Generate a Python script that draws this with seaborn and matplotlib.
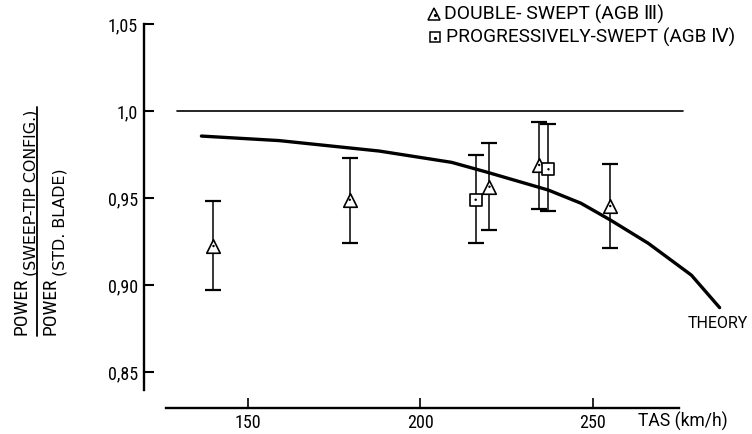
import matplotlib
matplotlib.use("Agg")
import matplotlib.pyplot as plt
import seaborn as sns
import pandas as pd
from matplotlib.lines import Line2D
from matplotlib import font_manager

# ---------------- data ----------------
theory_tas = [136.5, 159, 188, 209, 219, 237, 246.5, 255, 266, 278.5, 286.7]
theory_ratio = [0.9856, 0.983, 0.977, 0.9705, 0.965, 0.9546, 0.947, 0.9374, 0.924, 0.9057, 0.887]

double_tas = [140, 179.5, 220, 234.4, 255]
double_ratio = [0.9224, 0.949, 0.9565, 0.969, 0.9454]
double_lo = [0.897, 0.924, 0.9316, 0.9435, 0.9211]
double_hi = [0.948, 0.973, 0.9814, 0.9938, 0.9695]

prog_tas = [216, 237.1]
prog_ratio = [0.949, 0.9665]
prog_lo = [0.924, 0.9427]
prog_hi = [0.9747, 0.9925]

ref_tas = [129.4, 276]
ref_ratio = [1.0, 1.0]

x_ticks = [150, 200, 250]
x_ticklabels = ["150", "200", "250"]
y_ticks = [0.85, 0.90, 0.95, 1.0, 1.05]
y_ticklabels = ["0,85", "0,90", "0,95", "1,0", "1,05"]

legend_labels = ["DOUBLE- SWEPT (AGB \u2162)", "PROGRESSIVELY-SWEPT (AGB \u2163)"]

# ---------------- style ----------------
sns.set_style("ticks")
avail = {f.name for f in font_manager.fontManager.ttflist}
text_font = "Roboto" if "Roboto" in avail else "DejaVu Sans"
cond_font = text_font
for cand in ["Roboto Condensed", "Liberation Sans Narrow", "DejaVu Sans Condensed", "Noto Sans Condensed"]:
    if cand in avail:
        cond_font = cand
        break
plt.rcParams["font.family"] = [text_font, "DejaVu Sans"]
TEXT = [text_font, "DejaVu Sans"]
COND = [cond_font, "DejaVu Sans"]
WIDE = ["DejaVu Sans"]

W, H = 752, 434
fig = plt.figure(figsize=(W / 100, H / 100), dpi=100)
fig.patch.set_facecolor("white")

# axes placed so data maps onto the reference's pixel grid
L, R, T, B = 130, 740, 10, 415
ax = fig.add_axes([L / W, 1 - B / H, (R - L) / W, (B - T) / H])
ax.set_facecolor("none")
ax.set_xlim(115.80, 292.61)
ax.set_ylim(0.82529, 1.05805)

# reference line at 1.0
sns.lineplot(x=ref_tas, y=ref_ratio, ax=ax, color="black", lw=1.2, estimator=None)
# theory curve
sns.lineplot(x=theory_tas, y=theory_ratio, ax=ax, color="black", lw=2.4, estimator=None)

# error bars
ax.errorbar(double_tas, double_ratio,
            yerr=[[m - l for m, l in zip(double_ratio, double_lo)],
                  [h - m for m, h in zip(double_ratio, double_hi)]],
            fmt="none", ecolor="black", elinewidth=1.1, capsize=5.5, capthick=1.6, zorder=2)
ax.errorbar(prog_tas, prog_ratio,
            yerr=[[m - l for m, l in zip(prog_ratio, prog_lo)],
                  [h - m for m, h in zip(prog_ratio, prog_hi)]],
            fmt="none", ecolor="black", elinewidth=1.1, capsize=5.5, capthick=1.6, zorder=2)

# markers
df_d = pd.DataFrame({"tas": double_tas, "ratio": double_ratio})
df_p = pd.DataFrame({"tas": prog_tas, "ratio": prog_ratio})
sns.scatterplot(data=df_d, x="tas", y="ratio", ax=ax, marker="^", s=95,
                color="white", edgecolor="black", linewidth=1.2, zorder=4)
sns.scatterplot(data=df_p, x="tas", y="ratio", ax=ax, marker="s", s=72,
                color="white", edgecolor="black", linewidth=1.2, zorder=4)
sns.scatterplot(data=pd.concat([df_d, df_p]), x="tas", y="ratio", ax=ax, marker="o",
                s=3, color="black", edgecolor="none", zorder=5)

ax.set_xlabel("")
ax.set_ylabel("")

# spines: detached axes
for s in ["top", "right"]:
    ax.spines[s].set_visible(False)
ax.spines["left"].set_position(("data", 119.86))
ax.spines["left"].set_bounds(0.8397, 1.05)
ax.spines["bottom"].set_position(("data", 0.82931))
ax.spines["bottom"].set_bounds(126.2, 274.9)
for s in ["left", "bottom"]:
    ax.spines[s].set_linewidth(1.7)
    ax.spines[s].set_color("black")

ax.set_xticks(x_ticks)
ax.set_xticklabels(x_ticklabels)
ax.set_yticks(y_ticks)
ax.set_yticklabels(y_ticklabels)

fig.canvas.draw()
renderer = fig.canvas.get_renderer()


def width_at(s, size, family):
    t = fig.text(0, 0, s, fontsize=size, family=family)
    w = t.get_window_extent(renderer).width
    t.remove()
    return w


def size_for(s, target, family, base=10):
    return base * target / width_at(s, base, family)


tick_size = size_for("1,05", 30, COND)
ax.tick_params(axis="y", direction="in", length=7, width=1.5, pad=4.3, labelsize=tick_size, colors="black")
ax.tick_params(axis="x", direction="in", length=7, width=1.2, pad=4.0, labelsize=tick_size, colors="black")
for lab in ax.get_xticklabels() + ax.get_yticklabels():
    lab.set_family(COND)


def htext(x0, x1, yc, s, family=TEXT):
    fs = size_for(s, x1 - x0, family)
    fig.text(x0 / W, 1 - yc / H, s, ha="left", va="center", fontsize=fs, color="black", family=family)


# legend (manual, top right)
htext(444, 663, 14, legend_labels[0])
htext(446, 733, 37, legend_labels[1])
fig.add_artist(Line2D([434 / W], [1 - 14 / H], transform=fig.transFigure, marker="^", markersize=8,
                      markerfacecolor="white", markeredgecolor="black", markeredgewidth=1.1, linestyle="none"))
fig.add_artist(Line2D([435 / W], [1 - 37 / H], transform=fig.transFigure, marker="s", markersize=6.5,
                      markerfacecolor="white", markeredgecolor="black", markeredgewidth=1.1, linestyle="none"))
for yy in (14, 37):
    fig.add_artist(Line2D([434.5 / W], [1 - (yy + 1) / H], transform=fig.transFigure, marker="o", markersize=1.3,
                          color="black", linestyle="none"))

# annotations
htext(688, 748, 324, "THEORY")
htext(638, 728, 421, "TAS (km/h)")

# y label as a fraction: POWER_(sub) over POWER_(sub)
num_sub = "(SWEEP-TIP CONFIG.)"
den_sub = "(STD. BLADE)"
y_start, y_end, gap = 335, 108, 2
main_fs = 14
lenP = width_at("POWER", main_fs, COND)
sub_fs = size_for(num_sub, y_start - lenP - gap - y_end, WIDE)


def vtext(xbase, ystart, s, fs, family):
    fig.text(xbase / W, 1 - ystart / H, s, rotation=90, rotation_mode="anchor",
             ha="left", va="baseline", fontsize=fs, color="black", family=family)


vtext(26, y_start, "POWER", main_fs, COND)
vtext(35, y_start - lenP - gap, num_sub, sub_fs, WIDE)
vtext(55.5, y_start, "POWER", main_fs, COND)
vtext(64.5, y_start - lenP - gap, den_sub, sub_fs, WIDE)
fig.add_artist(Line2D([37 / W, 37 / W], [1 - 107 / H, 1 - 336 / H], transform=fig.transFigure,
                      color="black", lw=1.3))

fig.savefig("out.png", dpi=100, facecolor="white")
